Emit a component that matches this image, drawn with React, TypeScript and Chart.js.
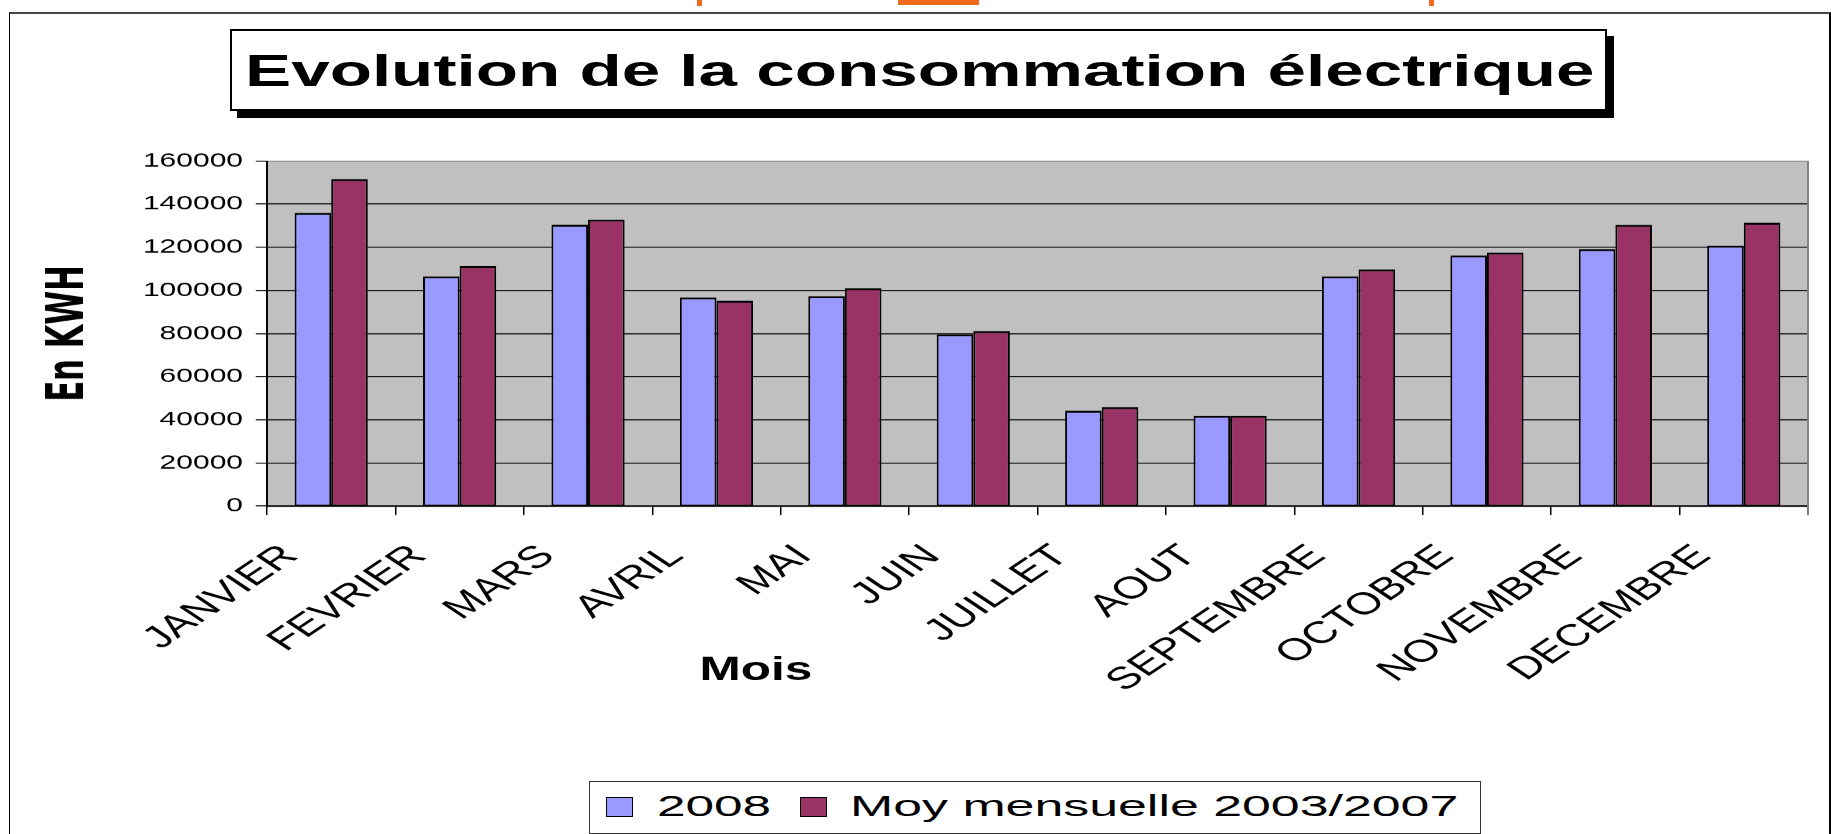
import React, { useEffect, useLayoutEffect, useRef } from 'react';
import { Chart, registerables } from 'chart.js';

Chart.register(...registerables);

// ---- Data ----
const chartTitle = 'Evolution de la consommation électrique';
const yAxisTitle = 'En KWH';
const xAxisTitle = 'Mois';
const months = ['JANVIER', 'FEVRIER', 'MARS', 'AVRIL', 'MAI', 'JUIN', 'JUILLET', 'AOUT', 'SEPTEMBRE', 'OCTOBRE', 'NOVEMBRE', 'DECEMBRE'];
const conso2008 = [136000, 106500, 130500, 96700, 97300, 79600, 44200, 41800, 106500, 116200, 119100, 120700];
const moy2003_2007 = [151600, 111300, 132800, 95200, 101000, 81100, 45800, 41800, 109700, 117600, 130400, 131400];
const seriesLabels = ['2008', 'Moy mensuelle 2003/2007'];
const seriesColors = ['#9999FF', '#993366'];
const yMin = 0;
const yMax = 160000;
const yStep = 20000;

// ---- Layout (page pixels) ----
const PAGE_W = 1831;
const PAGE_H = 834;
const S = 1.5; // horizontal stretch of the chart canvas
const LOGICAL_W = Math.round(PAGE_W / S);
const FONT = '"Liberation Sans", Arial, Helvetica, sans-serif';

function StretchText({ text, size, weight, left, baseline, width }: any) {
  const ref = useRef<HTMLSpanElement>(null);
  useLayoutEffect(() => {
    const el = ref.current;
    if (!el) return;
    const natural = el.offsetWidth || 1;
    el.style.transform = `scaleX(${width / natural})`;
  }, [text, width, size]);
  return (
    <span
      ref={ref}
      style={{
        position: 'absolute',
        left,
        top: baseline - size * 0.8465,
        fontFamily: FONT,
        fontSize: size,
        fontWeight: weight,
        lineHeight: 1,
        whiteSpace: 'nowrap',
        transformOrigin: '0 0',
        color: '#000',
      }}
    >
      {text}
    </span>
  );
}

const bgPlugin = {
  id: 'plotBg',
  beforeDraw(chart: any) {
    const { ctx, chartArea } = chart;
    ctx.save();
    ctx.fillStyle = '#C0C0C0';
    ctx.fillRect(chartArea.left, chartArea.top, chartArea.right - chartArea.left, chartArea.bottom - chartArea.top);
    ctx.restore();
  },
  afterDraw(chart: any) {
    const { ctx, chartArea } = chart;
    ctx.save();
    ctx.strokeStyle = '#808080';
    ctx.lineWidth = 1.3;
    ctx.beginPath();
    ctx.moveTo(chartArea.right, chartArea.top);
    ctx.lineTo(chartArea.right, chartArea.bottom + 9);
    ctx.stroke();
    // x axis title
    ctx.fillStyle = '#000';
    ctx.font = `bold 33px ${FONT}`;
    ctx.textAlign = 'center';
    ctx.textBaseline = 'alphabetic';
    const x = chartArea.left + 0.3173 * (chartArea.right - chartArea.left);
    ctx.fillText(xAxisTitle, x, 680);
    ctx.restore();
  },
};

function ChartCanvas() {
  const canvasRef = useRef<HTMLCanvasElement>(null);
  useEffect(() => {
    const canvas = canvasRef.current;
    if (!canvas) return;
    const sideW = 1.3;
    const chart = new Chart(canvas, {
      type: 'bar',
      data: {
        labels: months,
        datasets: [
          {
            label: seriesLabels[0],
            data: conso2008,
            backgroundColor: seriesColors[0],
            borderColor: '#000',
            borderWidth: { top: 2, left: sideW, right: sideW, bottom: 1 },
            borderSkipped: false,
          },
          {
            label: seriesLabels[1],
            data: moy2003_2007,
            backgroundColor: seriesColors[1],
            borderColor: '#000',
            borderWidth: { top: 2, left: sideW, right: sideW, bottom: 1 },
            borderSkipped: false,
          },
        ],
      },
      options: {
        responsive: false,
        animation: false,
        devicePixelRatio: S,
        layout: { padding: { left: 0, right: LOGICAL_W - 1808 / S, top: 161, bottom: 0 } },
        datasets: { bar: { categoryPercentage: 0.57, barPercentage: 1 } },
        plugins: {
          legend: { display: false },
          title: { display: false },
          tooltip: { enabled: false },
        },
        scales: {
          x: {
            afterFit: (scale: any) => {
              scale.height = PAGE_H - 506;
            },
            grid: {
              drawOnChartArea: false,
              drawTicks: true,
              tickLength: 9,
              color: '#000',
              tickColor: '#000',
              offset: true,
            },
            border: { display: true, color: '#000', width: 1.5 },
            ticks: {
              autoSkip: false,
              maxRotation: 45,
              minRotation: 45,
              padding: 23,
              labelOffset: -27,
              color: '#000',
              font: { family: FONT, size: 31 },
            },
          },
          y: {
            min: yMin,
            max: yMax,
            afterFit: (scale: any) => {
              scale.width = 267 / S;
            },
            grid: {
              color: (ctx: any) => (ctx.tick && ctx.tick.value === yMax ? '#808080' : '#000'),
              tickColor: '#000',
              tickLength: 7.5,
              lineWidth: 1,
            },
            border: { display: true, color: '#000', width: 1.3 },
            ticks: {
              stepSize: yStep,
              padding: 8.5,
              color: '#000',
              font: { family: FONT, size: 20 },
              callback: (v: any) => String(v),
            },
            title: {
              display: true,
              text: yAxisTitle,
              color: '#000',
              font: { family: '"Liberation Sans Narrow", "DejaVu Sans Condensed", "Liberation Sans", sans-serif', size: 34, weight: 'bold' },
              padding: { top: 26, bottom: 0 },
            },
          },
        },
      },
      plugins: [bgPlugin],
    } as any);
    return () => chart.destroy();
  }, []);
  return (
    <canvas
      ref={canvasRef}
      width={LOGICAL_W}
      height={PAGE_H}
      style={{ position: 'absolute', left: 0, top: 0, width: PAGE_W + 'px', height: PAGE_H + 'px' }}
    />
  );
}

export default function App() {
  return (
    <div style={{ position: 'absolute', left: 0, top: 0, width: PAGE_W, height: PAGE_H, overflow: 'hidden', background: '#fff' }}>
      {/* decorative remnants of the slide behind */}
      <div style={{ position: 'absolute', left: 898, top: 0, width: 81, height: 5, background: '#F26B1D' }} />
      <div style={{ position: 'absolute', left: 697, top: 0, width: 5, height: 6, background: '#F26B1D' }} />
      <div style={{ position: 'absolute', left: 1429, top: 0, width: 5, height: 6, background: '#F26B1D' }} />
      {/* outer frame */}
      <div
        style={{
          position: 'absolute',
          left: 9,
          top: 12,
          width: PAGE_W - 9,
          height: 900,
          boxSizing: 'border-box',
          borderTop: '2px solid #444',
          borderLeft: '1.5px solid #000',
          borderRight: '2px solid #000',
        }}
      />
      <ChartCanvas />
      {/* title box */}
      <div
        style={{
          position: 'absolute',
          left: 230,
          top: 29,
          width: 1377,
          height: 82,
          boxSizing: 'border-box',
          border: '2px solid #000',
          background: '#fff',
          boxShadow: '7px 7px 0 #000',
        }}
      />
      <StretchText text={chartTitle} size={45} weight="bold" left={245} baseline={86} width={1350} />
      {/* legend */}
      <div
        style={{
          position: 'absolute',
          left: 589,
          top: 781,
          width: 892,
          height: 53,
          boxSizing: 'border-box',
          border: '1px solid #333',
          background: '#fff',
        }}
      />
      <div style={{ position: 'absolute', left: 606, top: 797, width: 27, height: 20, boxSizing: 'border-box', border: '1px solid #000', background: seriesColors[0] }} />
      <StretchText text={seriesLabels[0]} size={29} weight="normal" left={657} baseline={817} width={115} />
      <div style={{ position: 'absolute', left: 800, top: 797, width: 27, height: 20, boxSizing: 'border-box', border: '1px solid #000', background: seriesColors[1] }} />
      <StretchText text={seriesLabels[1]} size={29} weight="normal" left={850} baseline={817} width={608} />
    </div>
  );
}
